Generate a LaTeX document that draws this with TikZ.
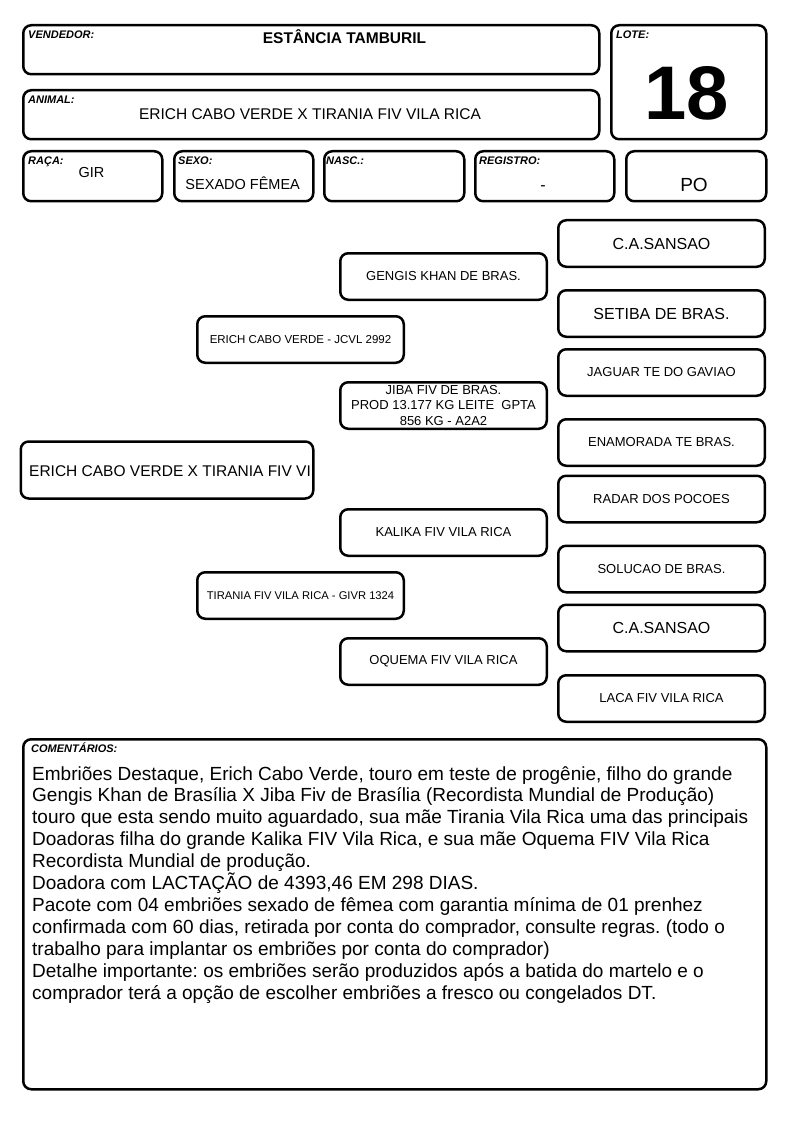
\documentclass[tikz,border=0pt]{standalone}
\usepackage{fontspec}
\setmainfont{Liberation Sans}
\usetikzlibrary{positioning}
\frenchspacing
\tikzstyle{field box}=[
    draw,
    line width = 2.5pt,
    rounded corners = 8pt,
    inner sep = 0pt,
    anchor = north west
]
\tikzstyle{field label}=[
    font = \fontsize{11}{12}\selectfont\bfseries\itshape,
    anchor = base west,
    inner sep = 0pt
]
\tikzstyle{field value}=[
    anchor = base,
    inner sep = 0pt
]
\tikzstyle{ped box}=[
    draw,
    line width = 2.5pt,
    rounded corners = 8pt,
    inner sep = 0pt,
    minimum width = 206.5pt,
    minimum height = 46.5pt,
    align = center
]

\begin{document}
\begin{tikzpicture}[x=1pt, y=-1pt, comment line/.style = {anchor=base west, inner sep=0pt, font=\fontsize{19}{22}\selectfont}]
        \useasboundingbox (0,0) rectangle (794,1123);

        % header fields
        \node[field box, minimum width=576pt, minimum height=49pt] (vendedor) at (22,24) {};
        \node[field box, minimum width=155pt, minimum height=114pt] (lote) at (610,24) {};
        \node[field box, minimum width=576pt, minimum height=49pt] (animal) at (22,89) {};
        \node[field box, minimum width=139pt, minimum height=50pt] (raca) at (22,150) {};
        \node[field box, minimum width=139pt, minimum height=50pt] (sexo) at (173,150) {};
        \node[field box, minimum width=140pt, minimum height=50pt] (nasc) at (323,150) {};
        \node[field box, minimum width=139pt, minimum height=50pt] (registro) at (474,150) {};
        \node[field box, minimum width=140pt, minimum height=50pt] (po) at (625,150) {};
        \node[field box, minimum width=743pt, minimum height=350pt] (comentarios) at (22,738) {};

        \node[field label] (vendlbl) at ([shift={(6,15)}]vendedor.north west) {VENDEDOR:};
        \node[field label] (lotelbl) at ([shift={(6,15)}]lote.north west) {LOTE:};
        \node[field label] (animallbl) at ([shift={(6,15)}]animal.north west) {ANIMAL:};
        \node[field label] (racalbl) at ([shift={(6,15)}]raca.north west) {RAÇA:};
        \node[field label] (sexolbl) at ([shift={(5,15)}]sexo.north west) {SEXO:};
        \node[field label] (nasclbl) at ([shift={(3,15)}]nasc.north west) {NASC.:};
        \node[field label] (registrolbl) at ([shift={(5,15)}]registro.north west) {REGISTRO:};
        \node[field label] (comentlbl) at ([shift={(9,14)}]comentarios.north west) {COMENTÁRIOS:};

        \node[field value, font=\fontsize{15.5}{18}\selectfont\bfseries] (vendval) at (344.5,43.3) {ESTÂNCIA TAMBURIL};
        \node[field value, font=\fontsize{76}{80}\selectfont\bfseries] (loteval) at (687,119.5) {18};
        \node[field value, font=\fontsize{15.5}{18}\selectfont] (animalval) at (310,119.5) {ERICH CABO VERDE X TIRANIA FIV VILA RICA};
        \node[field value, font=\fontsize{14.5}{17}\selectfont] (racaval) at (91.5,178) {GIR};
        \node[field value, font=\fontsize{14.5}{17}\selectfont] (sexoval) at (242.7,189.3) {SEXADO FÊMEA};
        \node[field value, font=\fontsize{16}{18}\selectfont] (registroval) at (543,191) {-};
        \node[field value, font=\fontsize{19}{20}\selectfont] (poval) at (694,191.7) {PO};

        % pedigree
        \node[ped box, minimum width=292.5pt, minimum height=57pt] (main) at (167,470) {};
        \node[anchor=base west, inner sep=0pt, font=\fontsize{15.5}{18}\selectfont] (maintxt) at (29,476.5) {ERICH CABO VERDE X TIRANIA FIV VI};

        \node[ped box, font=\fontsize{11.5}{13}\selectfont] (sire) at (300.5,339.5) {ERICH CABO VERDE - JCVL 2992};
        \node[ped box, font=\fontsize{11.2}{13}\selectfont] (dam) at (300.5,595.5) {TIRANIA FIV VILA RICA - GIVR 1324};

        \node[ped box, font=\fontsize{13}{15}\selectfont] (ss) at (443.5,276.5) {GENGIS KHAN DE BRAS.};
        \node[ped box, font=\fontsize{13}{15.5}\selectfont] (sd) at (443.5,405.5) {JIBA FIV DE BRAS.\\PROD 13.177 KG LEITE\ \ GPTA\\856 KG - A2A2};
        \node[ped box, font=\fontsize{13}{15}\selectfont] (ds) at (443.5,532.5) {KALIKA FIV VILA RICA};
        \node[ped box, font=\fontsize{13}{15}\selectfont] (dd) at (443.5,661.5) {OQUEMA FIV VILA RICA};

        \node[ped box, font=\fontsize{16}{18}\selectfont] (sss) at (661.5,243.5) {C.A.SANSAO};
        \node[ped box, font=\fontsize{16}{18}\selectfont] (ssd) at (661.5,313.5) {SETIBA DE BRAS.};
        \node[ped box, font=\fontsize{13}{15}\selectfont] (sds) at (661.5,372.5) {JAGUAR TE DO GAVIAO};
        \node[ped box, font=\fontsize{13}{15}\selectfont] (sdd) at (661.5,442.5) {ENAMORADA TE BRAS.};
        \node[ped box, font=\fontsize{13}{15}\selectfont] (dss) at (661.5,499) {RADAR DOS POCOES};
        \node[ped box, font=\fontsize{13}{15}\selectfont] (dsd) at (661.5,569) {SOLUCAO DE BRAS.};
        \node[ped box, font=\fontsize{16}{18}\selectfont] (dds) at (661.5,628) {C.A.SANSAO};
        \node[ped box, font=\fontsize{13}{15}\selectfont] (ddd) at (661.5,698.5) {LACA FIV VILA RICA};

        % comments
        \foreach \ln [count=\i] in {
            {Embriões Destaque, Erich Cabo Verde, touro em teste de progênie, filho do grande},
            {Gengis Khan de Brasília X Jiba Fiv de Brasília (Recordista Mundial de Produção)},
            {touro que esta sendo muito aguardado, sua mãe Tirania Vila Rica uma das principais},
            {Doadoras filha do grande Kalika FIV Vila Rica, e sua mãe Oquema FIV Vila Rica},
            {Recordista Mundial de produção.},
            {Doadora com LACTAÇÃO de 4393,46 EM 298 DIAS.},
            {Pacote com 04 embriões sexado de fêmea com garantia mínima de 01 prenhez},
            {confirmada com 60 dias, retirada por conta do comprador, consulte regras. (todo o},
            {trabalho para implantar os embriões por conta do comprador)},
            {Detalhe importante: os embriões serão produzidos após a batida do martelo e o},
            {comprador terá a opção de escolher embriões a fresco ou congelados DT.}}
            \node[comment line] (cline\i) at (32,{780+21.9*(\i-1)}) {\ln};

    \end{tikzpicture}
\end{document}
